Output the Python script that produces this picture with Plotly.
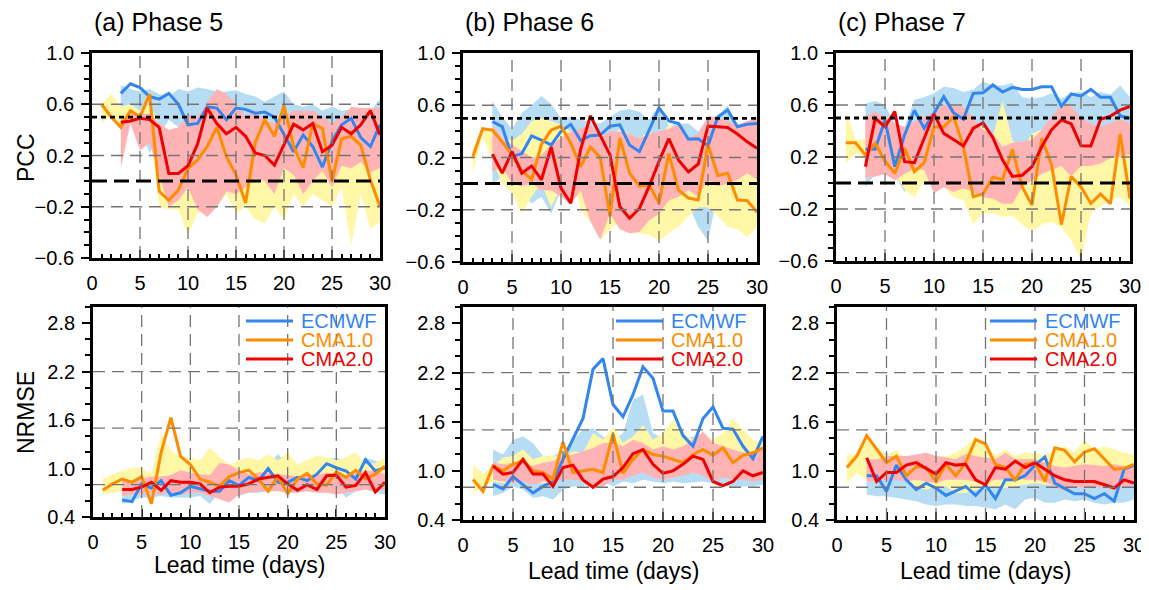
import plotly.graph_objects as go

# ---------------- data ----------------
days = list(range(1, 31))
days3 = list(range(3, 31))

models = ["ECMWF", "CMA1.0", "CMA2.0"]
phase_titles = ["(a) Phase 5", "(b) Phase 6", "(c) Phase 7"]

# ---- PCC (top row) ----
# Phase 5
ecmwf_pcc5 = [0.685, 0.76, 0.73, 0.66, 0.64, 0.685, 0.60, 0.44, 0.45, 0.58, 0.57, 0.48, 0.57, 0.56, 0.53, 0.54, 0.50, 0.36, 0.23, 0.36, 0.27, 0.11, 0.31, 0.44, 0.49, 0.34, 0.27, 0.44]
cma1_pcc5 = [0.60, 0.50, 0.42, 0.55, 0.50, 0.68, -0.08, -0.15, -0.07, 0.10, 0.165, 0.27, 0.42, 0.19, 0.05, -0.17, 0.30, 0.48, 0.35, 0.59, 0.27, 0.105, 0.45, 0.41, 0.0, 0.33, 0.35, 0.28, 0.01, -0.20]
cma2_pcc5 = [0.46, 0.47, 0.49, 0.48, 0.42, 0.06, 0.06, 0.12, 0.29, 0.57, 0.45, 0.37, 0.42, 0.35, 0.22, 0.20, 0.125, 0.28, 0.445, 0.40, 0.45, 0.23, 0.28, 0.42, 0.37, 0.44, 0.55, 0.36]
ecmwf_pcc5_hi = [0.75, 0.72, 0.70, 0.72, 0.68, 0.66, 0.72, 0.70, 0.73, 0.72, 0.70, 0.70, 0.71, 0.68, 0.66, 0.62, 0.66, 0.70, 0.60, 0.58, 0.60, 0.55, 0.58, 0.55, 0.56, 0.53, 0.55, 0.64]
ecmwf_pcc5_lo = [0.55, 0.50, 0.40, 0.22, 0.35, 0.48, 0.42, 0.30, 0.35, 0.45, 0.40, 0.35, 0.40, 0.40, 0.35, 0.35, 0.30, 0.18, 0.10, 0.15, 0.10, 0.0, 0.15, 0.25, 0.30, 0.20, 0.15, 0.25]
cma1_pcc5_hi = [0.60, 0.68, 0.58, 0.60, 0.55, 0.60, 0.45, 0.40, 0.40, 0.42, 0.42, 0.45, 0.50, 0.45, 0.40, 0.45, 0.45, 0.50, 0.40, 0.45, 0.35, 0.30, 0.45, 0.45, 0.45, 0.40, 0.40, 0.40, 0.35, 0.30]
cma1_pcc5_lo = [0.45, 0.52, 0.40, 0.50, 0.48, 0.45, -0.20, -0.22, -0.22, -0.42, -0.25, -0.22, -0.20, -0.10, -0.25, -0.20, -0.30, -0.33, -0.20, -0.30, -0.10, -0.20, -0.10, -0.15, -0.20, -0.05, -0.50, -0.10, -0.37, -0.32]
cma2_pcc5_hi = [0.48, 0.55, 0.52, 0.53, 0.45, 0.40, 0.42, 0.52, 0.50, 0.62, 0.72, 0.68, 0.60, 0.50, 0.55, 0.48, 0.45, 0.50, 0.55, 0.55, 0.55, 0.50, 0.45, 0.50, 0.58, 0.57, 0.57, 0.57]
cma2_pcc5_lo = [0.10, 0.45, 0.24, 0.30, 0.05, -0.20, -0.15, -0.05, -0.22, -0.28, -0.20, -0.08, -0.10, -0.05, 0.02, 0.0, -0.10, 0.10, 0.05, -0.10, 0.0, 0.08, -0.05, 0.12, 0.10, 0.15, 0.07, 0.10]

# Phase 6
ecmwf_pcc6 = [0.474, 0.436, 0.206, 0.23, 0.365, 0.334, 0.296, 0.40, 0.454, 0.33, 0.367, 0.372, 0.44, 0.45, 0.296, 0.245, 0.41, 0.58, 0.48, 0.46, 0.34, 0.344, 0.29, 0.51, 0.564, 0.436, 0.454, 0.46]
cma1_pcc6 = [0.206, 0.42, 0.41, 0.32, 0.22, 0.10, 0.03, 0.30, 0.41, 0.44, 0.31, 0.13, 0.28, 0.20, -0.25, 0.35, 0.08, -0.02, -0.01, -0.15, 0.23, -0.05, -0.11, -0.125, 0.30, 0.06, 0.08, -0.125, -0.13, -0.22]
cma2_pcc6 = [0.225, 0.08, 0.245, 0.08, 0.135, 0.03, 0.28, -0.035, -0.15, 0.26, 0.52, 0.37, 0.22, -0.175, -0.265, -0.19, -0.02, 0.17, 0.344, 0.18, 0.09, 0.15, 0.44, 0.436, 0.43, 0.38, 0.32, 0.27]
ecmwf_pcc6_hi = [0.63, 0.51, 0.42, 0.54, 0.60, 0.67, 0.61, 0.50, 0.51, 0.49, 0.47, 0.46, 0.51, 0.56, 0.57, 0.55, 0.49, 0.60, 0.44, 0.46, 0.46, 0.40, 0.49, 0.51, 0.60, 0.44, 0.46, 0.47]
ecmwf_pcc6_lo = [0.0, 0.05, 0.0, -0.08, -0.15, -0.10, -0.23, -0.05, -0.05, -0.05, -0.10, -0.10, -0.18, -0.13, -0.10, -0.10, -0.10, -0.12, -0.15, -0.15, -0.16, -0.33, -0.44, -0.07, -0.05, 0.0, 0.03, 0.08]
cma1_pcc6_hi = [0.28, 0.40, 0.42, 0.35, 0.33, 0.38, 0.48, 0.50, 0.48, 0.45, 0.40, 0.35, 0.38, 0.38, 0.35, 0.42, 0.38, 0.35, 0.40, 0.35, 0.45, 0.40, 0.35, 0.30, 0.40, 0.30, 0.25, 0.20, 0.10, 0.15]
cma1_pcc6_lo = [0.08, 0.36, 0.18, 0.0, -0.07, -0.23, -0.10, 0.0, -0.18, -0.02, 0.13, -0.20, -0.29, -0.43, -0.35, -0.28, -0.38, -0.38, -0.39, -0.44, -0.38, -0.33, -0.25, -0.18, -0.18, -0.25, -0.33, -0.35, -0.41, -0.33]
cma2_pcc6_hi = [0.45, 0.35, 0.30, 0.25, 0.20, 0.22, 0.30, 0.35, 0.40, 0.42, 0.45, 0.35, 0.40, 0.40, 0.38, 0.35, 0.38, 0.40, 0.42, 0.45, 0.35, 0.38, 0.52, 0.50, 0.48, 0.45, 0.48, 0.50]
cma2_pcc6_lo = [0.09, 0.13, 0.0, -0.02, 0.0, -0.05, -0.05, -0.10, -0.16, -0.05, -0.29, -0.43, -0.23, -0.35, -0.38, -0.37, -0.28, -0.23, -0.13, -0.10, -0.05, -0.10, 0.03, -0.02, 0.0, 0.03, 0.08, 0.03]

# Phase 7
ecmwf_pcc7 = [0.26, 0.26, 0.485, 0.126, 0.37, 0.56, 0.42, 0.536, 0.664, 0.54, 0.49, 0.69, 0.695, 0.754, 0.70, 0.736, 0.72, 0.72, 0.74, 0.74, 0.59, 0.685, 0.67, 0.72, 0.66, 0.66, 0.515, 0.50]
cma1_pcc7 = [0.31, 0.31, 0.215, 0.305, 0.17, 0.074, 0.267, 0.087, 0.156, 0.43, 0.43, 0.51, 0.28, -0.105, -0.085, 0.044, 0.028, 0.26, -0.03, -0.17, 0.344, 0.14, -0.32, 0.05, -0.03, -0.157, -0.085, -0.16, 0.377, -0.12]
cma2_pcc7 = [0.126, 0.497, 0.433, 0.55, 0.164, 0.156, 0.344, 0.53, 0.382, 0.33, 0.285, 0.42, 0.464, 0.35, 0.177, 0.05, 0.06, 0.126, 0.28, 0.41, 0.485, 0.454, 0.287, 0.285, 0.49, 0.515, 0.56, 0.59]
ecmwf_pcc7_hi = [0.61, 0.63, 0.60, 0.46, 0.43, 0.64, 0.66, 0.69, 0.74, 0.73, 0.70, 0.72, 0.78, 0.75, 0.75, 0.77, 0.66, 0.65, 0.66, 0.69, 0.65, 0.69, 0.70, 0.66, 0.70, 0.68, 0.75, 0.66]
ecmwf_pcc7_lo = [-0.03, 0.07, 0.28, 0.05, -0.07, 0.10, 0.05, 0.0, 0.06, 0.04, 0.08, 0.03, 0.05, 0.02, 0.07, 0.04, 0.06, 0.05, 0.10, 0.0, -0.13, 0.0, 0.10, 0.05, 0.23, 0.28, 0.10, 0.02]
cma1_pcc7_hi = [0.56, 0.33, 0.34, 0.47, 0.38, 0.31, 0.25, 0.36, 0.38, 0.46, 0.46, 0.48, 0.60, 0.46, 0.43, 0.36, 0.63, 0.33, 0.25, 0.38, 0.41, 0.33, 0.25, 0.23, 0.25, 0.33, 0.31, 0.28, 0.40, 0.43]
cma1_pcc7_lo = [0.15, 0.23, 0.20, 0.16, 0.13, 0.07, -0.05, -0.11, 0.02, -0.03, -0.03, -0.11, -0.13, -0.32, -0.23, -0.23, -0.26, -0.25, -0.32, -0.37, -0.32, -0.30, -0.34, -0.44, -0.60, -0.23, -0.18, -0.13, -0.11, -0.18]
cma2_pcc7_hi = [0.51, 0.55, 0.51, 0.46, 0.43, 0.47, 0.51, 0.55, 0.60, 0.59, 0.59, 0.50, 0.41, 0.38, 0.28, 0.31, 0.32, 0.33, 0.41, 0.51, 0.60, 0.59, 0.50, 0.46, 0.43, 0.46, 0.49, 0.46]
cma2_pcc7_lo = [0.04, 0.05, 0.07, 0.02, 0.07, 0.11, 0.10, -0.08, -0.03, -0.07, -0.04, -0.07, -0.11, -0.12, -0.16, -0.16, -0.03, 0.02, 0.07, 0.10, 0.13, 0.05, 0.13, 0.13, 0.15, 0.19, 0.20, 0.22]

# ---- NRMSE (bottom row) ----
# Phase 5
ecmwf_nr5 = [0.61, 0.59, 0.81, 0.76, 0.85, 0.67, 0.70, 0.78, 0.75, 0.72, 0.72, 0.85, 0.79, 0.89, 0.85, 1.0, 0.83, 0.83, 0.89, 0.85, 0.93, 1.06, 1.01, 0.97, 0.87, 1.11, 0.97, 1.01]
cma1_nr5 = [0.73, 0.81, 0.87, 0.83, 0.90, 0.565, 1.2, 1.63, 1.15, 1.05, 0.87, 0.83, 0.78, 0.90, 0.95, 0.98, 0.87, 0.72, 0.90, 0.69, 0.87, 0.94, 0.81, 0.79, 0.96, 0.89, 0.98, 0.87, 0.93, 1.03]
cma2_nr5 = [0.74, 0.74, 0.77, 0.83, 0.73, 0.85, 0.83, 0.83, 0.81, 0.70, 0.77, 0.78, 0.78, 0.81, 0.87, 0.89, 0.91, 0.81, 0.73, 0.80, 0.74, 0.91, 0.92, 0.77, 0.79, 0.95, 0.71, 0.83]
ecmwf_nr5_hi = [0.85, 0.88, 0.93, 0.92, 0.85, 0.88, 0.90, 0.92, 0.95, 0.90, 0.93, 0.98, 0.95, 1.00, 1.02, 1.05, 1.18, 1.05, 1.00, 1.02, 1.05, 1.12, 1.13, 1.10, 1.05, 1.13, 1.10, 1.05]
ecmwf_nr5_lo = [0.56, 0.60, 0.64, 0.64, 0.66, 0.64, 0.64, 0.64, 0.66, 0.56, 0.70, 0.68, 0.66, 0.70, 0.70, 0.72, 0.74, 0.74, 0.74, 0.76, 0.76, 0.76, 0.76, 0.64, 0.72, 0.74, 0.70, 0.68]
cma1_nr5_hi = [0.87, 0.93, 0.97, 1.01, 1.01, 0.93, 1.43, 1.22, 1.14, 1.14, 1.10, 1.26, 1.14, 1.05, 1.10, 1.14, 1.10, 1.18, 1.10, 1.20, 1.05, 1.10, 1.16, 1.14, 1.10, 1.14, 1.20, 1.05, 1.07, 1.14]
cma1_nr5_lo = [0.68, 0.70, 0.72, 0.76, 0.74, 0.72, 0.74, 0.76, 0.78, 0.76, 0.74, 0.74, 0.72, 0.74, 0.76, 0.76, 0.78, 0.76, 0.78, 0.74, 0.76, 0.78, 0.76, 0.74, 0.78, 0.76, 0.78, 0.76, 0.78, 0.78]
cma2_nr5_hi = [0.85, 0.85, 0.88, 0.90, 0.90, 0.92, 0.98, 0.95, 0.93, 0.92, 1.07, 1.05, 0.98, 0.93, 0.95, 0.95, 0.93, 0.92, 0.90, 0.93, 0.92, 0.95, 0.93, 0.90, 0.95, 0.97, 0.98, 0.93]
cma2_nr5_lo = [0.66, 0.68, 0.68, 0.70, 0.68, 0.70, 0.68, 0.70, 0.70, 0.66, 0.62, 0.58, 0.68, 0.70, 0.72, 0.72, 0.72, 0.70, 0.70, 0.72, 0.70, 0.70, 0.68, 0.70, 0.72, 0.74, 0.72, 0.74]

# Phase 6
ecmwf_nr6 = [0.834, 0.78, 0.93, 0.83, 0.73, 0.81, 0.87, 1.14, 1.38, 1.64, 2.24, 2.37, 1.81, 1.66, 1.93, 2.27, 2.13, 1.73, 1.73, 1.43, 1.30, 1.64, 1.78, 1.52, 1.51, 1.30, 1.15, 1.42]
cma1_nr6 = [0.895, 0.75, 1.06, 1.0, 1.08, 1.12, 1.0, 0.98, 0.90, 1.35, 0.98, 1.0, 1.02, 0.98, 1.45, 0.97, 1.14, 1.26, 1.20, 1.18, 1.14, 1.10, 1.20, 1.26, 1.19, 1.28, 1.10, 1.19, 1.22, 1.28]
cma2_nr6 = [1.06, 0.96, 0.98, 1.14, 0.96, 0.96, 0.81, 1.04, 1.07, 0.89, 0.80, 0.90, 0.93, 1.04, 1.21, 1.26, 1.08, 0.97, 1.0, 1.08, 1.18, 1.14, 0.87, 0.82, 0.87, 1.0, 0.94, 0.98]
ecmwf_nr6_hi = [1.26, 1.20, 1.38, 1.42, 1.34, 1.18, 1.18, 1.24, 1.38, 1.50, 1.52, 1.42, 1.38, 1.46, 1.87, 1.93, 1.46, 1.40, 1.38, 1.38, 1.42, 1.38, 1.30, 1.34, 1.26, 1.18, 1.10, 1.18]
ecmwf_nr6_lo = [0.69, 0.73, 0.81, 0.77, 0.67, 0.69, 0.65, 0.77, 0.81, 0.81, 0.89, 0.87, 0.81, 0.87, 0.85, 0.89, 0.87, 0.85, 0.87, 0.85, 0.86, 0.87, 0.85, 0.83, 0.79, 0.81, 0.81, 0.83]
cma1_nr6_hi = [1.08, 0.96, 1.06, 1.16, 1.18, 1.26, 1.14, 1.18, 1.18, 1.16, 1.24, 1.22, 1.46, 1.38, 1.54, 1.34, 1.42, 1.56, 1.38, 1.46, 1.62, 1.46, 1.38, 1.46, 1.38, 1.46, 1.64, 1.50, 1.38, 1.34]
cma1_nr6_lo = [0.73, 0.81, 0.87, 0.85, 0.87, 0.89, 0.87, 0.85, 0.87, 0.89, 0.92, 0.92, 0.89, 0.92, 0.94, 0.92, 0.96, 0.98, 0.96, 0.94, 0.96, 0.98, 0.98, 0.96, 0.94, 0.96, 0.98, 0.96, 0.96, 0.98]
cma2_nr6_hi = [1.10, 1.08, 1.10, 1.12, 1.06, 1.10, 1.12, 1.18, 1.20, 1.24, 1.28, 1.34, 1.34, 1.30, 1.38, 1.34, 1.26, 1.30, 1.26, 1.30, 1.38, 1.48, 1.34, 1.30, 1.26, 1.22, 1.22, 1.28]
cma2_nr6_lo = [0.89, 0.87, 0.85, 0.87, 0.83, 0.87, 0.87, 0.89, 0.89, 0.87, 0.79, 0.81, 0.89, 0.89, 0.94, 0.98, 0.92, 0.89, 0.92, 0.94, 0.98, 0.94, 0.87, 0.92, 0.89, 0.89, 0.87, 0.89]

# Phase 7
ecmwf_nr7 = [0.94, 0.94, 0.75, 1.07, 0.89, 0.77, 0.85, 0.79, 0.70, 0.75, 0.81, 0.70, 0.83, 0.66, 0.89, 0.89, 0.94, 1.07, 1.17, 0.85, 0.79, 0.72, 0.72, 0.66, 0.72, 0.63, 1.02, 1.07]
cma1_nr7 = [1.04, 1.18, 1.43, 1.26, 1.10, 1.18, 0.94, 1.05, 1.04, 0.87, 1.08, 0.94, 1.10, 1.38, 1.33, 1.08, 1.04, 0.89, 1.08, 1.10, 0.87, 1.28, 1.25, 1.11, 1.23, 1.27, 1.14, 1.02, 1.03, 1.08]
cma2_nr7 = [1.16, 0.87, 0.98, 0.98, 1.07, 1.10, 1.03, 0.96, 1.10, 1.07, 1.08, 0.89, 0.83, 1.04, 1.02, 1.12, 1.04, 1.10, 1.02, 0.94, 0.89, 0.87, 0.87, 0.87, 0.83, 0.79, 0.89, 0.85]
ecmwf_nr7_hi = [1.14, 1.18, 1.22, 1.14, 1.10, 1.06, 1.04, 0.98, 1.02, 1.04, 1.02, 0.98, 1.00, 0.96, 0.94, 1.02, 1.08, 1.10, 1.18, 1.06, 1.02, 1.00, 0.98, 0.96, 0.96, 0.94, 0.89, 0.92]
ecmwf_nr7_lo = [0.71, 0.69, 0.69, 0.67, 0.65, 0.63, 0.59, 0.57, 0.59, 0.59, 0.57, 0.57, 0.55, 0.53, 0.59, 0.53, 0.65, 0.67, 0.61, 0.61, 0.65, 0.63, 0.65, 0.61, 0.59, 0.61, 0.61, 0.65]
cma1_nr7_hi = [1.20, 1.20, 1.38, 1.30, 1.18, 1.26, 1.14, 1.18, 1.22, 1.18, 1.18, 1.22, 1.30, 1.42, 1.34, 1.18, 1.26, 1.18, 1.22, 1.22, 1.18, 1.26, 1.30, 1.22, 1.38, 1.26, 1.30, 1.26, 1.22, 1.20]
cma1_nr7_lo = [0.85, 0.98, 0.89, 0.89, 0.98, 0.92, 0.87, 0.81, 0.77, 0.81, 0.81, 0.73, 0.73, 0.77, 0.79, 0.81, 0.79, 0.81, 0.83, 0.85, 0.83, 0.83, 0.85, 0.81, 0.83, 0.85, 0.83, 0.85, 0.87, 0.89]
cma2_nr7_hi = [1.14, 1.14, 1.18, 1.18, 1.18, 1.20, 1.22, 1.18, 1.16, 1.14, 1.21, 1.18, 1.16, 1.14, 1.22, 1.14, 1.14, 1.14, 1.10, 1.06, 1.04, 1.06, 1.08, 1.07, 1.06, 1.08, 1.06, 1.06]
cma2_nr7_lo = [0.87, 0.87, 0.89, 0.89, 0.87, 0.89, 0.87, 0.85, 0.89, 0.89, 0.89, 0.87, 0.85, 0.89, 0.89, 0.92, 0.89, 0.89, 0.87, 0.81, 0.75, 0.81, 0.79, 0.81, 0.79, 0.77, 0.81, 0.83]

# ---------------- styles ----------------
W, H = 1149, 590
OFF_X, OFF_Y = 8, 8   # page body margin of the html page
FONT = "Liberation Sans, Arial, Helvetica, sans-serif"
LINE_COL = {"ECMWF": "#3385F0", "CMA1.0": "#FF8C00", "CMA2.0": "#F00000"}
FILL_COL = {"ECMWF": "#B6DDF3", "CMA1.0": "#FFF7A6", "CMA2.0": "#FFB3B5"}
START = {"ECMWF": days3, "CMA1.0": days, "CMA2.0": days3}

def px(x):
    return (x - OFF_X) / W

def py(y):
    return 1 - (y - OFF_Y) / H

# panel boxes in screen pixels: (left, right, top, bottom)
boxes = [
    (92, 380, 53, 258), (463, 757, 53, 262), (836, 1130, 53, 261),
    (93, 385, 307, 517), (463, 763, 307, 520), (837, 1134, 307, 520),
]

top_sets = [
    {"ECMWF": (ecmwf_pcc5, ecmwf_pcc5_hi, ecmwf_pcc5_lo), "CMA1.0": (cma1_pcc5, cma1_pcc5_hi, cma1_pcc5_lo), "CMA2.0": (cma2_pcc5, cma2_pcc5_hi, cma2_pcc5_lo)},
    {"ECMWF": (ecmwf_pcc6, ecmwf_pcc6_hi, ecmwf_pcc6_lo), "CMA1.0": (cma1_pcc6, cma1_pcc6_hi, cma1_pcc6_lo), "CMA2.0": (cma2_pcc6, cma2_pcc6_hi, cma2_pcc6_lo)},
    {"ECMWF": (ecmwf_pcc7, ecmwf_pcc7_hi, ecmwf_pcc7_lo), "CMA1.0": (cma1_pcc7, cma1_pcc7_hi, cma1_pcc7_lo), "CMA2.0": (cma2_pcc7, cma2_pcc7_hi, cma2_pcc7_lo)},
]
bot_sets = [
    {"ECMWF": (ecmwf_nr5, ecmwf_nr5_hi, ecmwf_nr5_lo), "CMA1.0": (cma1_nr5, cma1_nr5_hi, cma1_nr5_lo), "CMA2.0": (cma2_nr5, cma2_nr5_hi, cma2_nr5_lo)},
    {"ECMWF": (ecmwf_nr6, ecmwf_nr6_hi, ecmwf_nr6_lo), "CMA1.0": (cma1_nr6, cma1_nr6_hi, cma1_nr6_lo), "CMA2.0": (cma2_nr6, cma2_nr6_hi, cma2_nr6_lo)},
    {"ECMWF": (ecmwf_nr7, ecmwf_nr7_hi, ecmwf_nr7_lo), "CMA1.0": (cma1_nr7, cma1_nr7_hi, cma1_nr7_lo), "CMA2.0": (cma2_nr7, cma2_nr7_hi, cma2_nr7_lo)},
]

pcc_grid = [0.6, 0.2, -0.2]
nrmse_grid = [0.8, 1.5, 2.2]
x_grid = [5, 10, 15, 20, 25]
pcc_dotted = 0.5
pcc_dashed = 0.0

fig = go.Figure()
layout = dict(width=W, height=H, autosize=False, margin=dict(l=0, r=0, t=0, b=0, pad=0, autoexpand=False),
              paper_bgcolor="white", plot_bgcolor="white", showlegend=False,
              font=dict(family=FONT, color="black"))
shapes = []
annotations = []

fill_order = ["ECMWF", "CMA1.0", "CMA2.0"]
line_order = ["ECMWF", "CMA1.0", "CMA2.0"]

for i in range(6):
    n = i + 1
    xa = "x" if n == 1 else f"x{n}"
    ya = "y" if n == 1 else f"y{n}"
    sets = top_sets[i] if i < 3 else bot_sets[i - 3]
    for m in fill_order:
        vals, hi, lo = sets[m]
        xs = START[m]
        fig.add_trace(go.Scatter(x=xs + xs[::-1], y=hi + lo[::-1], xaxis=xa, yaxis=ya,
                                 mode="lines", line=dict(width=0), fill="toself",
                                 fillcolor=FILL_COL[m], hoverinfo="skip"))
    for m in line_order:
        vals, hi, lo = sets[m]
        fig.add_trace(go.Scatter(x=START[m], y=vals, xaxis=xa, yaxis=ya, mode="lines",
                                 line=dict(color=LINE_COL[m], width=3), name=m))

    l, r, t, b = boxes[i]
    xkey = "xaxis" if n == 1 else f"xaxis{n}"
    ykey = "yaxis" if n == 1 else f"yaxis{n}"
    layout[xkey] = dict(domain=[px(l), px(r)], anchor=ya, range=[0, 30.0001], automargin=False,
                        tickmode="linear", tick0=0, dtick=5, ticks="inside", ticklen=8,
                        tickwidth=2, tickcolor="black", showline=True, linewidth=2.8,
                        linecolor="black", mirror=True, showgrid=False, zeroline=False,
                        minor=dict(ticks="inside", dtick=1, tick0=0, ticklen=4, tickwidth=1.6, tickcolor="black"),
                        tickfont=dict(size=20, family=FONT, color="black"), ticklabelstandoff=5)
    if i < 3:
        yr = [-0.6001, 1.0001]
        ydict = dict(tickmode="linear", tick0=-0.6, dtick=0.4,
                     minor=dict(ticks="outside", dtick=0.1, tick0=-0.6, ticklen=5, tickwidth=1.6, tickcolor="black"))
        hgrid = pcc_grid
    else:
        yr = [0.3999, 3.0001]
        ydict = dict(tickmode="linear", tick0=0.4, dtick=0.6,
                     minor=dict(ticks="outside", dtick=0.2, tick0=0.4, ticklen=5, tickwidth=1.6, tickcolor="black"))
        hgrid = nrmse_grid
    layout[ykey] = dict(domain=[py(b), py(t)], anchor=xa, range=yr, tickformat=".1f", automargin=False,
                        ticks="outside", ticklen=8, tickwidth=2, tickcolor="black",
                        showline=True, linewidth=2.8, linecolor="black", mirror=True,
                        showgrid=False, zeroline=False,
                        tickfont=dict(size=20, family=FONT, color="black"), ticklabelstandoff=3,
                        **ydict)

    # grid lines (drawn over the shading)
    for gx in x_grid:
        shapes.append(dict(type="line", xref=xa, yref=f"{ya} domain", x0=gx, x1=gx, y0=0, y1=1,
                           line=dict(color="#757575", width=1.3, dash="12px,7px"), layer="above"))
    for gy in hgrid:
        shapes.append(dict(type="line", xref=f"{xa} domain", yref=ya, x0=0, x1=1, y0=gy, y1=gy,
                           line=dict(color="#757575", width=1.3, dash="12px,7px"), layer="above"))
    if i < 3:
        shapes.append(dict(type="line", xref=f"{xa} domain", yref=ya, x0=0, x1=1, y0=pcc_dotted, y1=pcc_dotted,
                           line=dict(color="black", width=2.8, dash="5px,4px"), layer="above"))
        shapes.append(dict(type="line", xref=f"{xa} domain", yref=ya, x0=0, x1=1, y0=pcc_dashed, y1=pcc_dashed,
                           line=dict(color="black", width=3, dash="15px,7px"), layer="above"))
        annotations.append(dict(text=phase_titles[i], x=px(l), y=py(22), xref="paper", yref="paper",
                                xanchor="left", yanchor="middle", showarrow=False,
                                font=dict(size=25, family=FONT, color="black")))
    else:
        lab_y = 565 if i == 3 else 571
        annotations.append(dict(text="Lead time (days)", x=px((l + r) / 2), y=py(lab_y), xref="paper", yref="paper",
                                xanchor="center", yanchor="middle", showarrow=False,
                                font=dict(size=23, family=FONT, color="black")))
        # legend
        leg_x0 = l + 153
        for k, m in enumerate(models):
            yy = 321 + 19 * k
            shapes.append(dict(type="line", xref="paper", yref="paper", x0=px(leg_x0), x1=px(leg_x0 + 47),
                               y0=py(yy), y1=py(yy), line=dict(color=LINE_COL[m], width=3), layer="above"))
            annotations.append(dict(text=m, x=px(leg_x0 + 53), y=py(yy), xref="paper", yref="paper",
                                    xanchor="left", yanchor="middle", showarrow=False,
                                    font=dict(size=20, family=FONT, color=LINE_COL[m])))

annotations.append(dict(text="PCC", x=px(26), y=py(158), xref="paper", yref="paper", textangle=-90,
                        xanchor="center", yanchor="middle", showarrow=False,
                        font=dict(size=23, family=FONT, color="black")))
annotations.append(dict(text="NRMSE", x=px(26), y=py(413), xref="paper", yref="paper", textangle=-90,
                        xanchor="center", yanchor="middle", showarrow=False,
                        font=dict(size=23, family=FONT, color="black")))

layout["shapes"] = shapes
layout["annotations"] = annotations
fig.update_layout(**layout)
fig.write_html("out.html")
